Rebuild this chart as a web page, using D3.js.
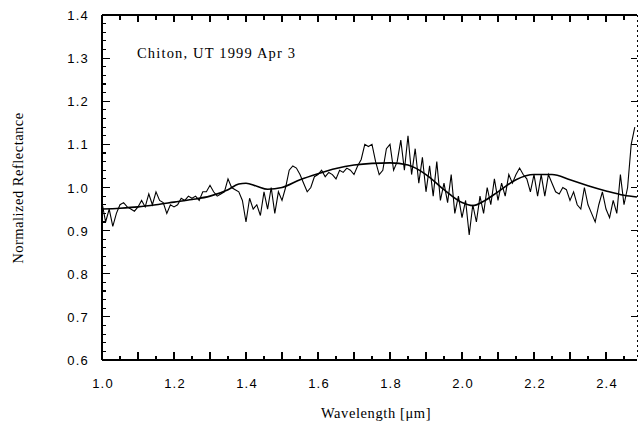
<!DOCTYPE html>
<html><head><meta charset="utf-8">
<script src="https://cdn.jsdelivr.net/npm/d3@7"></script>
<style>body{margin:0;background:#fff}svg{display:block}</style>
</head><body><svg id="c" width="638" height="431"></svg>
<script>
// Observed spectrum (noisy)
const specWl = d3.range(149).map(i => +(1.00 + i*0.01).toFixed(2));
const specVal = [0.965,0.92,0.95,0.91,0.94,0.96,0.965,0.955,0.95,0.945,
0.955,0.97,0.955,0.985,0.96,0.99,0.97,0.965,0.94,0.96,
0.955,0.96,0.975,0.97,0.98,0.975,0.98,0.97,0.99,0.99,
1.005,0.99,0.98,0.985,0.99,1.02,1.0,0.995,0.99,0.97,
0.92,0.975,0.95,0.96,0.935,0.99,0.95,1.0,0.94,0.99,
0.97,1.0,1.04,1.05,1.045,1.03,1.01,0.99,1.0,1.025,
1.03,1.04,1.025,1.035,1.03,1.02,1.04,1.035,1.045,1.04,
1.03,1.05,1.065,1.1,1.095,1.1,1.06,1.03,1.04,1.09,
1.1,1.04,1.06,1.11,1.04,1.12,1.03,1.09,1.01,1.07,
0.99,1.05,0.98,1.06,0.97,1.01,0.965,1.03,0.94,0.98,
0.93,0.97,0.89,0.96,0.92,0.98,0.94,1.0,0.96,1.02,
0.97,1.01,0.98,1.03,1.01,1.03,1.045,1.03,1.02,0.99,
1.03,0.98,1.03,0.98,1.03,1.01,0.99,0.985,1.0,0.995,
0.97,0.99,0.96,0.95,1.0,0.96,0.94,0.92,0.96,0.99,
0.95,0.93,0.97,0.94,1.03,0.96,1.0,1.1,1.14];
// Smooth model fit
const fitWl  = [1.00,1.05,1.10,1.15,1.20,1.25,1.30,1.35,1.38,1.40,1.43,1.46,1.50,1.55,1.60,1.65,1.70,1.75,1.80,1.85,1.90,1.95,2.00,2.03,2.06,2.10,2.15,2.20,2.25,2.30,2.35,2.40,2.45,2.486];
const fitVal = [0.950,0.952,0.955,0.960,0.966,0.972,0.980,0.995,1.008,1.010,1.003,0.996,1.000,1.018,1.032,1.044,1.052,1.056,1.057,1.052,1.030,0.995,0.965,0.958,0.968,0.990,1.018,1.030,1.030,1.018,1.004,0.992,0.982,0.978];
const xTickLabels = [1.0,1.2,1.4,1.6,1.8,2.0,2.2,2.4];
const yTickLabels = [0.6,0.7,0.8,0.9,1.0,1.1,1.2,1.3,1.4];

const L=102, R=637, T=15, B=360;
const x = d3.scaleLinear().domain([1.0, 1.0 + (R-L)/360]).range([L,R]);
const y = d3.scaleLinear().domain([0.6,1.4]).range([B,T]);
const svg = d3.select("#c");

const g = svg.append("g").attr("stroke","#000").attr("fill","none").attr("shape-rendering","crispEdges");
g.append("line").attr("x1",L).attr("x2",L).attr("y1",T).attr("y2",B).attr("stroke-width",1.5);
g.append("line").attr("x1",L).attr("x2",R).attr("y1",T).attr("y2",T).attr("stroke-width",1.5);
g.append("line").attr("x1",L).attr("x2",R).attr("y1",B).attr("y2",B).attr("stroke-width",1.5);
g.append("line").attr("x1",R).attr("x2",R).attr("y1",T).attr("y2",B).attr("stroke-width",1).attr("stroke-dasharray","2,3");

const yMinor = d3.range(0.6,1.4001,0.02);
yMinor.forEach(v=>{
  const major = Math.abs(Math.round(v*10)-v*10)<1e-6;
  g.append("line").attr("x1",L).attr("x2",L+(major?8:4)).attr("y1",y(v)).attr("y2",y(v)).attr("stroke-width",1.2);
  if(major) g.append("line").attr("x1",R).attr("x2",R-6).attr("y1",y(v)).attr("y2",y(v)).attr("stroke-width",1.2);
});
const xMinor = d3.range(1.05, x.domain()[1], 0.05);
xMinor.forEach(v=>{
  const major = Math.abs(Math.round(v*10)-v*10)<1e-6;
  g.append("line").attr("x1",x(v)).attr("x2",x(v)).attr("y1",B).attr("y2",B-(major?8:4)).attr("stroke-width",1.2);
  g.append("line").attr("x1",x(v)).attr("x2",x(v)).attr("y1",T).attr("y2",T+(major?7:5)).attr("stroke-width",1.2);
});

const tl = svg.append("g").attr("font-family","Liberation Sans, Arial, sans-serif").attr("font-size",13).attr("fill","#000").attr("letter-spacing","1.2");
yTickLabels.forEach(v=>{
  tl.append("text").attr("x",89).attr("y",y(v)+5).attr("text-anchor","end").text(v.toFixed(1));
});
xTickLabels.forEach(v=>{
  tl.append("text").attr("x",x(v)+1).attr("y",388).attr("text-anchor","middle").text(v.toFixed(1));
});

svg.append("path").datum(specWl.map((w,i)=>[w,specVal[i]]))
  .attr("d", d3.line().x(d=>x(d[0])).y(d=>y(d[1])))
  .attr("fill","none").attr("stroke","#000").attr("stroke-width",1.1);
svg.append("path").datum(fitWl.map((w,i)=>[w,fitVal[i]]))
  .attr("d", d3.line().curve(d3.curveMonotoneX).x(d=>x(d[0])).y(d=>y(d[1])))
  .attr("fill","none").attr("stroke","#000").attr("stroke-width",1.6);

const serif = "Liberation Serif, Times New Roman, serif";
svg.append("text").attr("x",137).attr("y",58).attr("font-family",serif).attr("font-size",14.5)
  .attr("textLength",158).attr("lengthAdjust","spacing").text("Chiton, UT 1999 Apr 3");
svg.append("text").attr("x",376).attr("y",418).attr("text-anchor","middle").attr("font-family",serif).attr("font-size",14.5)
  .attr("letter-spacing","0.6").text("Wavelength [μm]");
svg.append("text").attr("transform","translate(23,188) rotate(-90)").attr("text-anchor","middle").attr("font-family",serif).attr("font-size",14.5)
  .attr("letter-spacing","0.5").text("Normalized Reflectance");
</script></body></html>
